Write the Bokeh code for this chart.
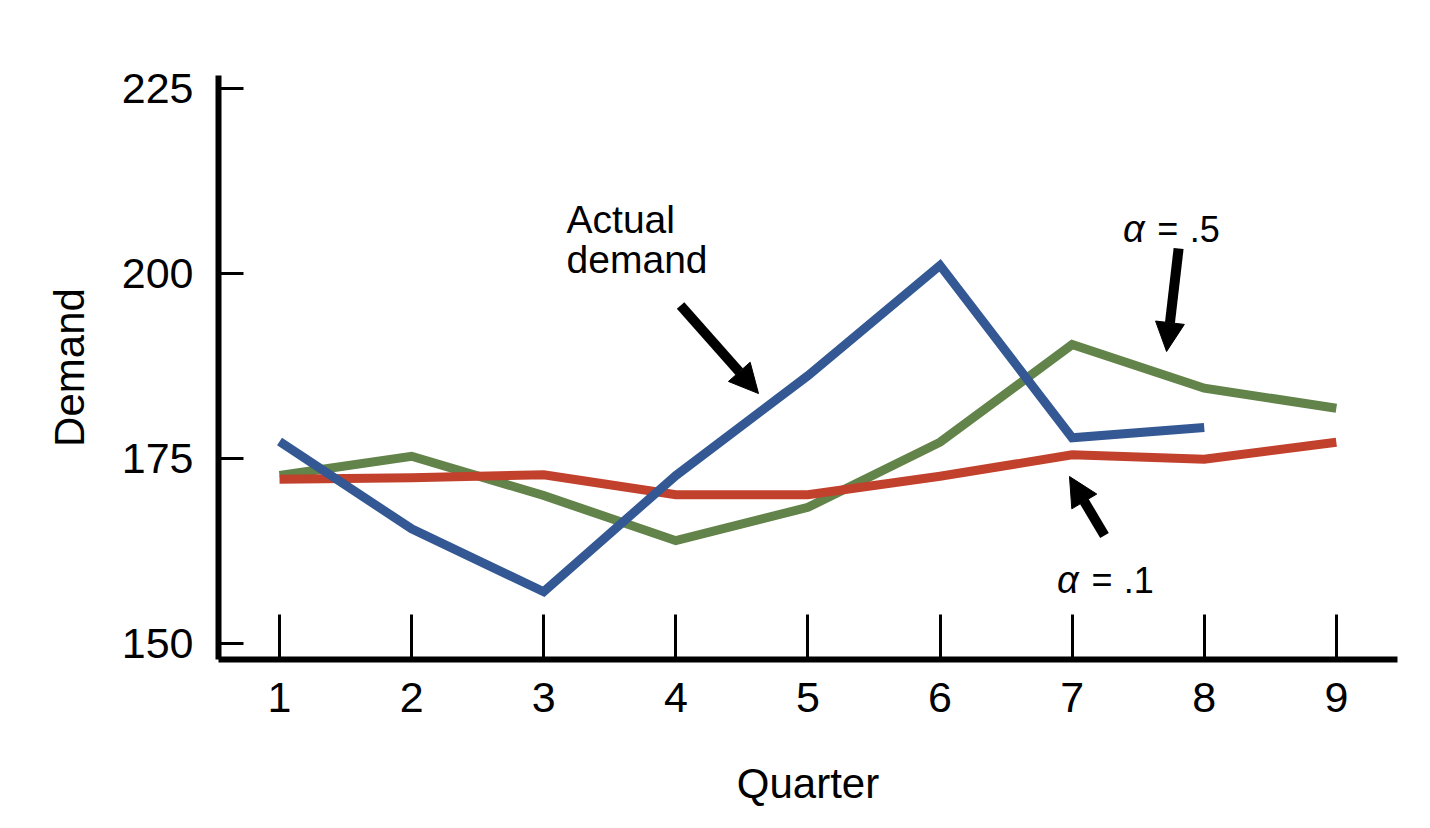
from bokeh.plotting import figure
from bokeh.models import Range1d, FixedTicker, Arrow, NormalHead, Label
from bokeh.embed import file_html
from bokeh.resources import INLINE

# ---- data ----
quarters = [1, 2, 3, 4, 5, 6, 7, 8, 9]
actual_quarters = [1, 2, 3, 4, 5, 6, 7, 8]
actual_demand = [177.3, 165.5, 157.0, 172.7, 186.2, 201.1, 177.8, 179.2]
forecast_a05 = [172.7, 175.3, 170.0, 163.9, 168.4, 177.2, 190.4, 184.5, 181.8]
forecast_a01 = [172.2, 172.4, 172.8, 170.1, 170.1, 172.6, 175.5, 174.9, 177.2]
y_ticks = [150, 175, 200, 225]

FONT = "Liberation Sans"
BLUE = "#335893"
GREEN = "#62834a"
RED = "#c2412d"

p = figure(width=1430, height=828, output_backend="svg", toolbar_location=None,
           x_range=Range1d(0.538, 9.463), y_range=Range1d(147.84, 226.76),
           min_border_left=218, min_border_right=33, min_border_top=75,
           min_border_bottom=169)
p.outline_line_color = None
p.xgrid.visible = False
p.ygrid.visible = False
p.background_fill_color = "white"
p.border_fill_color = "white"

p.line(quarters, forecast_a05, line_color=GREEN, line_width=9, line_join="miter")
p.line(quarters, forecast_a01, line_color=RED, line_width=9, line_join="miter")
p.line(actual_quarters, actual_demand, line_color=BLUE, line_width=9, line_join="miter")

for ax in (p.xaxis[0], p.yaxis[0]):
    ax.axis_line_color = "black"
    ax.axis_line_width = 6
    ax.major_tick_line_color = "black"
    ax.major_tick_line_width = 3
    ax.major_tick_out = 0
    ax.minor_tick_line_color = None
    ax.major_label_text_font = FONT
    ax.major_label_text_font_size = "43px"
    ax.major_label_text_color = "black"
    ax.axis_label_text_font = FONT
    ax.axis_label_text_font_size = "42px"
    ax.axis_label_text_font_style = "normal"
    ax.axis_label_text_color = "black"

p.xaxis.ticker = FixedTicker(ticks=quarters)
p.xaxis.major_tick_in = 45
p.xaxis.major_label_standoff = 23
p.xaxis.axis_label = "Quarter"
p.xaxis.axis_label_standoff = 45

p.yaxis.ticker = FixedTicker(ticks=y_ticks)
p.yaxis.major_tick_in = 25
p.yaxis.major_label_standoff = 25
p.yaxis.axis_label = "Demand"
p.yaxis.axis_label_standoff = 26

# ---- annotations ----
def lab(x, y, text, size, style="normal"):
    p.add_layout(Label(x=x, y=y, text=text, text_font=FONT, text_font_size=size,
                       text_font_style=style, text_color="black",
                       text_baseline="alphabetic", text_align="left"))

lab(3.173, 207.30, "Actual", "39px")
lab(3.173, 201.89, "demand", "39px")
lab(7.385, 206.08, "α", "38px", "italic")
lab(7.645, 206.08, "=", "36px")
lab(7.890, 206.08, ".5", "36px")
lab(6.886, 158.65, "α", "38px", "italic")
lab(7.146, 158.65, "=", "36px")
lab(7.391, 158.65, ".1", "36px")

def arrow(x0, y0, x1, y1):
    p.add_layout(Arrow(end=NormalHead(size=29, fill_color="black", line_color="black", line_width=1),
                       x_start=x0, y_start=y0, x_end=x1, y_end=y1,
                       line_color="black", line_width=10))

arrow(4.036, 195.68, 4.626, 183.78)
arrow(7.806, 203.38, 7.715, 189.46)
arrow(7.245, 164.59, 6.980, 172.57)

open("out.html", "w").write(file_html(p, INLINE))
